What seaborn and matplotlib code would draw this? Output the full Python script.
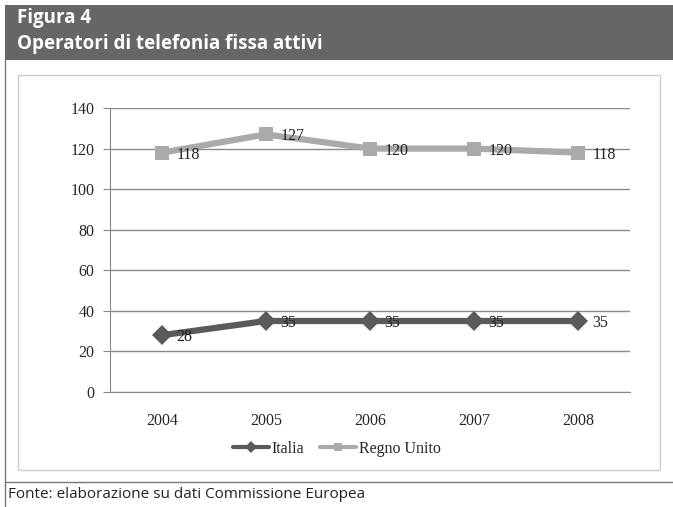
import matplotlib
matplotlib.use("Agg")
import matplotlib.pyplot as plt
from matplotlib.patches import Rectangle
from matplotlib.lines import Line2D
import seaborn as sns
import pandas as pd

years = ["2004", "2005", "2006", "2007", "2008"]
italia = [28, 35, 35, 35, 35]
regno_unito = [118, 127, 120, 120, 118]
yticks = [0, 20, 40, 60, 80, 100, 120, 140]

sns.set_style("white")
plt.rcParams["font.family"] = ["Liberation Serif", "DejaVu Serif"]

W, H = 673, 507
fig = plt.figure(figsize=(W / 100, H / 100), dpi=100)

def fx(x):
    return x / W

def fy(y):
    return 1 - y / H

# header band
fig.patches.append(Rectangle((fx(5), fy(60)), fx(668), 55 / H, transform=fig.transFigure,
                             facecolor="#666666", edgecolor="none", zorder=0))
fig.text(fx(17), fy(18), "Figura 4", color="white", fontsize=13.5, fontweight="bold",
         family=["Open Sans", "DejaVu Sans"], va="center", ha="left")
fig.text(fx(17), fy(44), "Operatori di telefonia fissa attivi", color="white", fontsize=13.5,
         fontweight="bold", family=["Open Sans", "DejaVu Sans"], va="center", ha="left")

# outer frame lines
fig.add_artist(Line2D([fx(5), fx(5)], [fy(60), fy(507)], color="#777777", lw=1, transform=fig.transFigure))
fig.add_artist(Line2D([fx(5), fx(673)], [fy(482), fy(482)], color="#777777", lw=1, transform=fig.transFigure))
# inner chart box
fig.patches.append(Rectangle((fx(18), fy(470)), fx(642), 395 / H, transform=fig.transFigure,
                             facecolor="none", edgecolor="#cccccc", lw=1))

fig.text(fx(8), fy(495), "Fonte: elaborazione su dati Commissione Europea", color="#222222",
         fontsize=11, family=["Open Sans", "DejaVu Sans"], va="center", ha="left")

ax = fig.add_axes([fx(110), fy(392), 520 / W, 284 / H])

df = pd.DataFrame({
    "x": list(range(len(years))) * 2,
    "val": italia + regno_unito,
    "serie": ["Italia"] * len(years) + ["Regno Unito"] * len(years),
})
palette = {"Italia": "#5a5a5a", "Regno Unito": "#aaaaaa"}
sns.lineplot(data=df, x="x", y="val", hue="serie", style="serie",
             markers={"Italia": "D", "Regno Unito": "s"}, dashes=False,
             palette=palette, linewidth=4.5, markersize=10.5, markeredgewidth=0,
             ax=ax, legend=False)

for i, v in enumerate(italia):
    ax.text(i + 0.14, v - 1, str(v), fontsize=11.5, color="#222222", va="center", ha="left")
for i, v in enumerate(regno_unito):
    ax.text(i + 0.14, v - 1, str(v), fontsize=11.5, color="#222222", va="center", ha="left")

ax.set_xlim(-0.5, len(years) - 0.5)
ax.set_ylim(0, 140)
ax.set_yticks(yticks)
ax.set_yticklabels([str(t) for t in yticks], fontsize=11.5)
ax.set_xticks(range(len(years)))
ax.set_xticklabels(years, fontsize=11.5)
ax.set_xticks([i - 0.5 for i in range(len(years) + 1)], minor=True)
ax.tick_params(axis="x", which="major", length=0, pad=15)
ax.tick_params(axis="x", which="minor", length=5, color="#888888", direction="out")
ax.tick_params(axis="y", length=5, color="#888888", direction="out", left=True, pad=6)
ax.set_xlabel("")
ax.set_ylabel("")
ax.yaxis.grid(True, color="#8a8a8a", lw=1)
ax.set_axisbelow(True)
for s in ["top", "right"]:
    ax.spines[s].set_visible(False)
ax.spines["left"].set_color("#888888")
ax.spines["bottom"].set_color("#888888")
ax.set_facecolor("none")

handles = [
    Line2D([], [], color="#5a5a5a", lw=3, marker="D", markersize=6, markeredgewidth=0),
    Line2D([], [], color="#aaaaaa", lw=3, marker="s", markersize=6, markeredgewidth=0),
]
fig.legend(handles, ["Italia", "Regno Unito"], loc="center", bbox_to_anchor=(fx(337), fy(449)),
           ncol=2, frameon=False, fontsize=11.5, handlelength=2.2, handletextpad=0.2,
           columnspacing=1.0)

fig.savefig("out.png", dpi=100)
